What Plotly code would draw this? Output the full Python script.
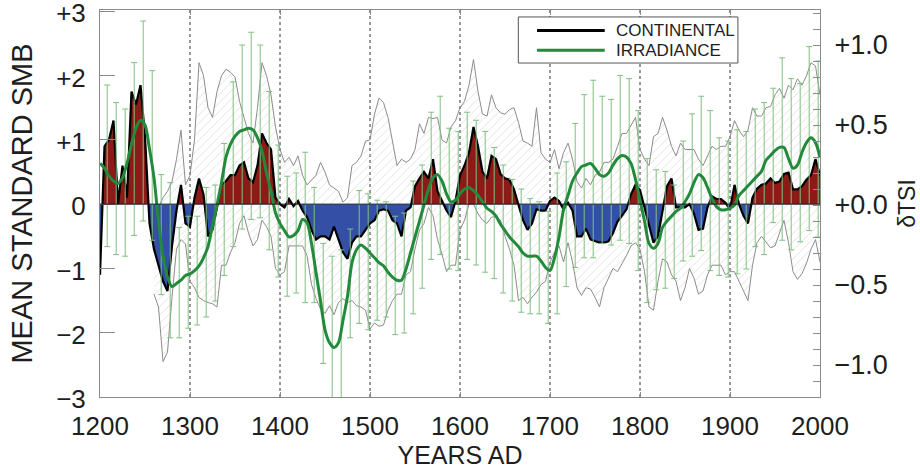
import numpy as np
import plotly.graph_objects as go

# ---------------- data ----------------
smb_years = list(range(1200, 2001, 5))
smb = [
    -1.1, 0.9, 1.0, 1.3, 0.0, 0.6, 0.1, 1.75, 1.55, 1.85,      # 1200-1245
    1.05, -0.3, -0.7, -0.95, -1.2, -1.35, -0.65, -0.1, 0.3, -0.3,  # 1250-1295
    -0.35, 0.1, 0.4, 0.15, -0.5, -0.4, -0.05, 0.3, 0.36, 0.45,  # 1300-1345
    0.45, 0.6, 0.65, 0.4, 0.34, 0.6, 1.1, 0.95, 0.85, 0.1,      # 1350-1395
    0.0, -0.05, 0.08, -0.03, 0.05, -0.1, -0.2, -0.4, -0.55, -0.5,  # 1400-1445
    -0.5, -0.55, -0.35, -0.55, -0.75, -0.85, -0.6, -0.5, -0.5, -0.4,  # 1450-1495
    -0.3, -0.25, -0.1, -0.08, -0.1, -0.25, -0.3, -0.5, -0.1, -0.05,  # 1500-1545
    0.28, 0.4, 0.5, 0.4, 0.7, 0.2, 0.05, -0.1, -0.2, 0.05,      # 1550-1595
    0.45, 0.6, 0.8, 1.2, 0.9, 0.5, 0.4, 0.75, 0.7, 0.47,        # 1600-1645
    0.4, 0.38, 0.23, -0.03, -0.25, -0.4, -0.3, -0.08, -0.1, -0.1,  # 1650-1695
    0.05, 0.1, 0.05, -0.08, 0.02, -0.1, -0.5, -0.5, -0.38, -0.55,  # 1700-1745
    -0.57, -0.6, -0.6, -0.58, -0.45, -0.27, -0.18, -0.08, 0.15, 0.3,  # 1750-1795
    0.22, -0.05, -0.35, -0.6, -0.5, -0.1, 0.28, 0.4, -0.05, -0.05,  # 1800-1845
    -0.05, 0.0, -0.15, -0.4, -0.38, -0.05, 0.12, 0.08, 0.08, 0.02,  # 1850-1895
    -0.08, 0.3, 0.0, -0.18, -0.3, 0.1, 0.24, 0.3, 0.32, 0.4,    # 1900-1945
    0.33, 0.35, 0.47, 0.49, 0.23, 0.23, 0.28, 0.38, 0.45, 0.7,  # 1950-1995
    0.45,                                                       # 2000
]

env_years = list(range(1260, 2001, 5))
env_upper = [
    -0.1, -0.05, 0.1, 0.2, 0.35, 0.7, 1.15, 0.3,               # 1260-1295
    0.45, 1.0, 2.2, 2.0, 1.5, 1.35, 1.75, 2.0, 2.1, 2.05,       # 1300-1345
    1.98, 1.6, 1.35, 1.1, 0.95, 1.5, 2.2, 2.0, 1.7, 1.2,        # 1350-1395
    0.85, 0.65, 0.73, 0.6, 0.75, 0.45, 0.3, 0.38, 0.45, 0.65,   # 1400-1445
    0.5, 0.3, 0.25, 0.2, 0.03, 0.1, 0.6, 0.65, 0.75, 0.98,      # 1450-1495
    1.0, 1.4, 1.65, 1.58, 1.35, 1.0, 0.6, 0.7, 0.65, 0.7,       # 1500-1545
    0.85, 1.25, 1.1, 1.35, 1.33, 1.35, 1.0, 0.95, 1.2, 1.3,     # 1550-1595
    1.5, 1.6, 1.85, 2.25, 1.75, 1.4, 1.37, 1.7, 1.5, 1.42,      # 1600-1645
    1.4, 1.47, 1.5, 1.27, 0.98, 0.95, 0.9, 1.5, 0.8, 0.7,       # 1650-1695
    0.65, 0.85, 0.55, 0.8, 0.95, 0.7, 0.35, 0.25, 0.4, 0.3,     # 1700-1745
    0.45, 0.5, 0.65, 0.65, 0.7, 0.9, 1.1, 1.1, 1.22, 1.35,      # 1750-1795
    0.85, 0.7, 0.6, 1.05, 1.1, 1.35, 1.15, 0.9, 0.75, 0.95,     # 1800-1845
    0.85, 0.85, 0.85, 0.7, 0.6, 0.75, 0.9, 0.85, 0.9, 0.9,      # 1850-1895
    1.05, 1.3, 1.15, 1.05, 1.15, 1.5, 1.37, 1.37, 1.5, 1.52,    # 1900-1945
    1.7, 1.8, 1.65, 1.85, 1.78, 1.95, 1.85, 2.0, 2.2, 2.15,     # 1950-1995
    1.7,                                                        # 2000
]
env_lower = [
    -1.4, -1.6, -2.45, -2.3, -1.45, -0.7, -0.55, -0.62,         # 1260-1295
    -1.2, -1.3, -1.45, -1.5, -1.53, -1.55, -1.6, -0.95, -0.95, -0.75,  # 1300-1345
    -0.6, -0.3, -0.18, -0.45, -0.65, -0.55, -0.25, -0.35, -0.5, -1.0,  # 1350-1395
    -1.1, -1.05, -0.65, -0.65, -0.65, -0.65, -0.8, -1.25, -1.47, -1.63,  # 1400-1445
    -1.7, -1.58, -1.72, -1.53, -1.47, -1.53, -1.5, -1.58, -1.6, -1.65,  # 1450-1495
    -1.94, -1.85, -1.9, -1.88, -1.65, -1.5, -1.4, -1.4, -1.1, -1.05,  # 1500-1545
    -0.7, -0.4, -0.3, -0.05, -0.18, -0.55, -0.78, -1.05, -0.95, -0.95,  # 1550-1595
    -0.4, -0.25, 0.0, 0.0, -0.15, -0.25, -0.3, -0.2, -0.2, -0.25,  # 1600-1645
    -0.5, -0.7, -0.95, -1.5, -1.45, -1.55, -1.45, -1.37, -1.25, -1.2,  # 1650-1695
    -0.9, -0.75, -0.65, -0.9, -0.6, -0.9, -1.3, -1.42, -1.3, -1.32,  # 1700-1745
    -1.45, -1.6, -1.3, -1.15, -1.0, -1.05, -0.93, -0.8, -0.65, -0.6,  # 1750-1795
    -0.7, -1.05, -1.6, -1.65, -1.2, -0.85, -0.9, -1.1, -1.2, -1.5,  # 1800-1845
    -1.3, -1.0, -1.15, -1.4, -1.35, -1.1, -0.95, -0.95, -0.95, -1.1,  # 1850-1895
    -1.05, -1.05, -1.2, -1.37, -1.5, -0.95, -0.6, -0.5, -0.6, -0.68,  # 1900-1945
    -0.65, -0.45, -0.25, -0.6, -1.05, -1.17, -1.08, -0.92, -0.7, -0.55,  # 1950-1995
    -0.9,                                                       # 2000
]

tsi_years = list(range(1200, 2001, 5))
tsi = [
    0.26, 0.23, 0.18, 0.15, 0.135, 0.17, 0.26, 0.38, 0.48, 0.53,   # 1200-1245
    0.5, 0.35, 0.17, -0.1, -0.32, -0.45, -0.51, -0.49, -0.47, -0.44,  # 1250-1295
    -0.43, -0.41, -0.38, -0.33, -0.26, -0.13, 0.0, 0.14, 0.3, 0.38,  # 1300-1345
    0.43, 0.46, 0.47, 0.48, 0.47, 0.42, 0.34, 0.2, 0.09, -0.05,    # 1350-1395
    -0.115, -0.16, -0.2, -0.19, -0.16, -0.09, -0.11, -0.24, -0.42, -0.6,  # 1400-1445
    -0.78, -0.86, -0.89, -0.86, -0.72, -0.57, -0.36, -0.28, -0.25, -0.27,  # 1450-1495
    -0.3, -0.33, -0.36, -0.38, -0.42, -0.45, -0.47, -0.47, -0.4, -0.3,  # 1500-1545
    -0.2, -0.1, 0.0, 0.1, 0.17, 0.19, 0.15, 0.07, 0.02, 0.03,      # 1550-1595
    0.07, 0.1, 0.11, 0.09, 0.06, 0.02, -0.02, -0.04, -0.07, -0.12,  # 1600-1645
    -0.16, -0.2, -0.23, -0.26, -0.3, -0.32, -0.32, -0.32, -0.35, -0.39,  # 1650-1695
    -0.41, -0.33, -0.2, -0.03, 0.06, 0.15, 0.2, 0.24, 0.25, 0.26,  # 1700-1745
    0.23, 0.19, 0.18, 0.2, 0.25, 0.29, 0.31, 0.3, 0.26, 0.16,      # 1750-1795
    0.03, -0.1, -0.24, -0.27, -0.24, -0.14, -0.1, -0.07, -0.04, -0.02,  # 1800-1845
    0.02, 0.07, 0.14, 0.19, 0.17, 0.11, 0.04, -0.01, -0.03, -0.03,  # 1850-1895
    -0.02, 0.0, 0.06, 0.09, 0.12, 0.15, 0.18, 0.21, 0.28, 0.31,    # 1900-1945
    0.34, 0.36, 0.36, 0.29, 0.23, 0.25, 0.33, 0.39, 0.42, 0.39,    # 1950-1995
    0.3,                                                           # 2000
]

err_years = list(range(1208, 1999, 10))
err_top = [
    0.75, 0.64, 0.60, 0.89, 1.15, 0.84, 0.19, 0.14, -0.14, -0.07,   # 1208-1298
    -0.07, 0.11, 0.125, 0.385, 0.77, 1.0, 1.08, 1.0, 0.71, 0.375,   # 1308-1398
    0.18, 0.2, 0.33, 0.11, -0.24, -0.32, -0.28, -0.15, 0.09, 0.07,  # 1408-1498
    0.03, 0.02, -0.07, -0.05, 0.15, 0.25, 0.58, 0.68, 0.48, 0.46,   # 1508-1598
    0.58, 0.53, 0.46, 0.36, 0.25, 0.16, 0.10, 0.04, 0.02, -0.04,    # 1608-1698
    0.2, 0.27, 0.51, 0.69, 0.78, 0.68, 0.66, 0.81, 0.79, 0.59,      # 1708-1798
    0.29, 0.22, 0.21, 0.125, 0.4, 0.57, 0.68, 0.59, 0.42, 0.4,      # 1808-1898
    0.47, 0.46, 0.6, 0.64, 0.73, 0.92, 0.79, 0.76, 0.99, 0.9,       # 1908-1998
]
err_bot = [
    -0.26, -0.31, -0.32, -0.19, -0.10, -0.22, -0.56, -0.83, -0.83, -0.77,  # 1208-1298
    -0.75, -0.70, -0.60, -0.44, -0.26, -0.15, -0.09, -0.08, -0.28, -0.45,  # 1308-1398
    -0.57, -0.55, -0.61, -0.61, -0.99, -1.28, -1.28, -0.83, -0.74, -0.78,  # 1408-1498
    -0.72, -0.70, -0.81, -0.80, -0.68, -0.52, -0.34, -0.31, -0.40, -0.41,  # 1508-1598
    -0.34, -0.375, -0.42, -0.46, -0.55, -0.60, -0.67, -0.68, -0.68, -0.74,  # 1608-1698
    -0.68, -0.51, -0.39, -0.33, -0.33, -0.24, -0.25, -0.22, -0.24, -0.41,  # 1708-1798
    -0.61, -0.53, -0.52, -0.46, -0.35, -0.32, -0.285, -0.41, -0.44, -0.45,  # 1808-1898
    -0.43, -0.40, -0.26, -0.31, -0.11, -0.22, -0.28, -0.23, -0.16, -0.2,   # 1908-1998
]

x_ticks = [1200, 1300, 1400, 1500, 1600, 1700, 1800, 1900, 2000]
y_ticks = [3, 2, 1, 0, -1, -2, -3]
y_ticktext = ["+3", "+2", "+1", "0", "\u22121", "\u22122", "\u22123"]
y2_ticks = [1.0, 0.5, 0.0, -0.5, -1.0]
y2_ticktext = ["+1.0", "+0.5", "+0.0", "\u22120.5", "\u22121.0"]
legend_names = ["CONTINENTAL", "IRRADIANCE"]

# ---------------- styling ----------------
FONT = "Liberation Sans, Arial, sans-serif"
TXT = "#1e1e1e"
FRAME = "#8a8a8a"
RED = "#8c1a16"
BLUE = "#3350a6"
GREEN = "#23893b"
GREEN_LIGHT = "#80bf80"
GRAY = "#8c8c8c"

# split SMB into positive / negative parts (with zero crossings inserted)
xs, ys = [], []
for i, (xv, yv) in enumerate(zip(smb_years, smb)):
    if i > 0:
        y0 = smb[i - 1]
        if y0 * yv < 0:
            t = y0 / (y0 - yv)
            xs.append(smb_years[i - 1] + t * (xv - smb_years[i - 1]))
            ys.append(0.0)
    xs.append(xv)
    ys.append(yv)
xs = np.array(xs)
ys = np.array(ys)
pos = np.clip(ys, 0, None)
neg = np.clip(ys, None, 0)

fig = go.Figure()

# hatched uncertainty envelope
fig.add_trace(go.Scatter(x=env_years, y=env_lower, mode="lines",
                         line=dict(color=GRAY, width=1), hoverinfo="skip",
                         showlegend=False))
fig.add_trace(go.Scatter(x=env_years, y=env_upper, mode="lines",
                         line=dict(color=GRAY, width=1), fill="tonexty",
                         fillcolor="rgba(0,0,0,0)",
                         fillpattern=dict(shape="/", fgcolor="#bdbdbd",
                                          bgcolor="rgba(255,255,255,0)",
                                          size=6, solidity=0.14),
                         hoverinfo="skip", showlegend=False))

# positive / negative fills
fig.add_trace(go.Scatter(x=xs, y=pos, mode="lines", line=dict(width=0, color=RED),
                         fill="tozeroy", fillcolor=RED, hoverinfo="skip",
                         showlegend=False))
fig.add_trace(go.Scatter(x=xs, y=neg, mode="lines", line=dict(width=0, color=BLUE),
                         fill="tozeroy", fillcolor=BLUE, hoverinfo="skip",
                         showlegend=False))
# continental SMB line
fig.add_trace(go.Scatter(x=smb_years, y=smb, mode="lines",
                         line=dict(color="black", width=2.2), name=legend_names[0],
                         showlegend=False))

# irradiance error bars (right axis)
span = [t - b for t, b in zip(err_top, err_bot)]
fig.add_trace(go.Scatter(x=err_years, y=err_bot, mode="markers", yaxis="y2",
                         marker=dict(size=1, opacity=0),
                         error_y=dict(type="data", symmetric=False, array=span,
                                      arrayminus=[0] * len(span),
                                      color=GREEN_LIGHT, thickness=1, width=3),
                         hoverinfo="skip", showlegend=False))
# irradiance curve
fig.add_trace(go.Scatter(x=tsi_years, y=tsi, mode="lines", yaxis="y2",
                         line=dict(color=GREEN, width=3, shape="spline", smoothing=0.8),
                         name=legend_names[1], showlegend=False))

shapes = []
for xv in x_ticks[1:-1]:
    shapes.append(dict(type="line", xref="x", yref="y domain", x0=xv, x1=xv,
                       y0=0, y1=1, line=dict(color="#333", width=1, dash="dot"),
                       layer="below"))
shapes.append(dict(type="line", xref="x domain", yref="y", x0=0, x1=1, y0=0, y1=0,
                   line=dict(color="#1a1a30", width=1), layer="above"))

# legend box (drawn manually)
shapes.append(dict(type="rect", xref="paper", yref="paper", x0=0.581, x1=0.886,
                   y0=0.863, y1=0.982, fillcolor="white",
                   line=dict(color="#555", width=1), layer="above"))
shapes.append(dict(type="line", xref="paper", yref="paper", x0=0.607, x1=0.701,
                   y0=0.947, y1=0.947, line=dict(color="black", width=3),
                   layer="above"))
shapes.append(dict(type="line", xref="paper", yref="paper", x0=0.607, x1=0.701,
                   y0=0.896, y1=0.896, line=dict(color=GREEN, width=3),
                   layer="above"))
annotations = [
    dict(xref="paper", yref="paper", x=0.714, y=0.947, text=legend_names[0],
         showarrow=False, xanchor="left", yanchor="middle",
         font=dict(family=FONT, size=17, color=TXT)),
    dict(xref="paper", yref="paper", x=0.714, y=0.896, text=legend_names[1],
         showarrow=False, xanchor="left", yanchor="middle",
         font=dict(family=FONT, size=17, color=TXT)),
]

fig.update_layout(
    width=920, height=469,
    margin=dict(l=100, r=100, t=10, b=72, autoexpand=False),
    paper_bgcolor="white", plot_bgcolor="white",
    font=dict(family=FONT, color=TXT),
    showlegend=False,
    shapes=shapes, annotations=annotations,
    xaxis=dict(range=[1200, 2000], tickvals=x_ticks, ticks="inside", ticklen=5,
               tickcolor=FRAME, showline=True, linecolor=FRAME, linewidth=1,
               mirror="ticks", showgrid=False, zeroline=False, automargin=False,
               tickfont=dict(size=26, color=TXT), ticklabelstandoff=6,
               title=dict(text="YEARS AD", font=dict(size=25, color=TXT), standoff=5)),
    yaxis=dict(range=[-3.0, 3.02], tickvals=y_ticks, ticktext=y_ticktext,
               ticks="inside", ticklen=15, tickcolor=FRAME, showline=True,
               linecolor=FRAME, linewidth=1, showgrid=False, zeroline=False,
               automargin=False, ticklabeloverflow="allow", ticklabelshift=2,
               tickfont=dict(size=26, color=TXT), ticklabelstandoff=8,
               title=dict(text="MEAN STANDARD SMB", font=dict(size=29, color=TXT),
                          standoff=14)),
    yaxis2=dict(range=[-1.2, 1.219], overlaying="y", side="right",
                tickvals=y2_ticks, ticktext=y2_ticktext, ticks="inside", ticklen=7,
                tickcolor=FRAME, showline=True, linecolor=FRAME, linewidth=1,
                showgrid=False, zeroline=False, automargin=False,
                ticklabeloverflow="allow",
                minor=dict(dtick=0.1, ticks="inside", ticklen=7, tickcolor=FRAME,
                           showgrid=False),
                tickfont=dict(size=27, color=TXT), ticklabelstandoff=8,
                title=dict(text="\u03b4TSI", font=dict(size=23, color=TXT),
                           standoff=14)),
)

# remove the browser's default page margin so the figure sits at the window origin
fig.write_html("out.html",
               config={"displayModeBar": False},
               post_script="document.body.style.margin='0';"
                           "document.body.style.overflow='hidden';")
